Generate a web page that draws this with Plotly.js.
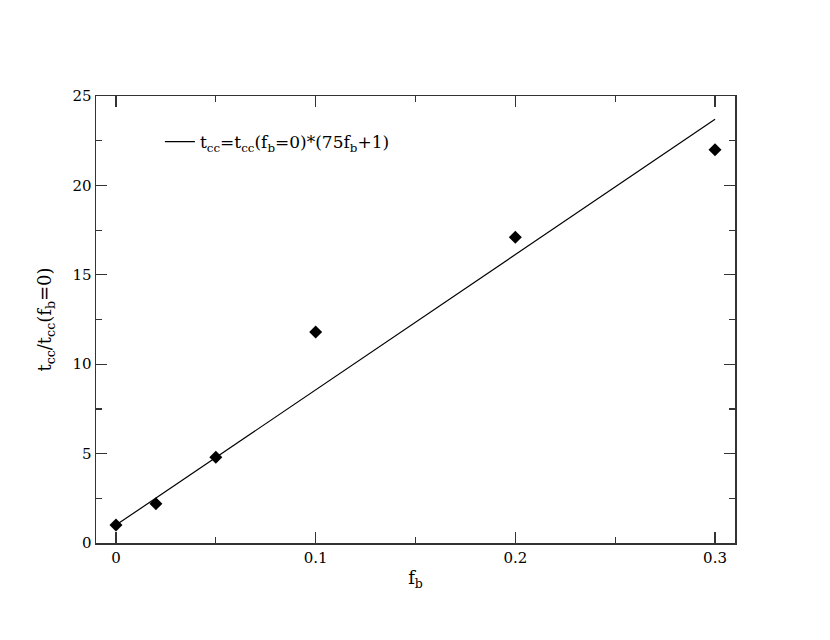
<!DOCTYPE html>
<html>
<head>
<meta charset="utf-8">
<script src="https://cdn.plot.ly/plotly-3.0.1.min.js"></script>
<style>html,body{margin:0;padding:0;background:#fff;}</style>
</head>
<body>
<div id="chart" style="width:830px;height:640px;"></div>
<script>
const fbPoints = [0, 0.02, 0.05, 0.1, 0.2, 0.3];
const ratioPoints = [1.0, 2.2, 4.8, 11.8, 17.1, 22.0];
const fitX = [0, 0.3];
const fitY = [1.0, 23.7];
const fitLabel = 't<sub>cc</sub>=t<sub>cc</sub>(f<sub>b</sub>=0)*(75f<sub>b</sub>+1)';

const fnt = 'DejaVu Serif';

const traces = [
  {
    x: fitX, y: fitY, type: 'scatter', mode: 'lines',
    line: {color: '#000', width: 1.2},
    name: fitLabel, showlegend: true
  },
  {
    x: fbPoints, y: ratioPoints, type: 'scatter', mode: 'markers',
    marker: {symbol: 'diamond', size: 10, color: '#000'},
    showlegend: false
  }
];

const axisCommon = {
  showline: true, mirror: 'ticks', linecolor: '#333', linewidth: 1.5,
  ticks: 'inside', ticklen: 11, tickwidth: 1.2, tickcolor: '#333',
  showgrid: false, zeroline: false,
  tickfont: {family: fnt, size: 15, color: '#000'}
};

const layout = {
  width: 830, height: 640,
  margin: {l: 96, r: 95, t: 96, b: 97},
  paper_bgcolor: '#fff', plot_bgcolor: '#fff',
  font: {family: fnt, color: '#000'},
  xaxis: Object.assign({}, axisCommon, {
    range: [-0.01, 0.31], tick0: 0, dtick: 0.1,
    minor: {dtick: 0.05, ticklen: 6, tickcolor: '#333', ticks: 'inside', tickwidth: 1.2},
    title: {text: 'f<sub>b</sub>', font: {family: fnt, size: 18}, standoff: 6}
  }),
  yaxis: Object.assign({}, axisCommon, {
    range: [0, 25], tick0: 0, dtick: 5,
    minor: {dtick: 2.5, ticklen: 6, tickcolor: '#333', ticks: 'inside', tickwidth: 1.2},
    title: {text: 't<sub>cc</sub>/t<sub>cc</sub>(f<sub>b</sub>=0)', font: {family: fnt, size: 18}, standoff: 16}
  }),
  legend: {
    x: 0.10, y: 0.937, xanchor: 'left', yanchor: 'top',
    bgcolor: 'rgba(0,0,0,0)', borderwidth: 0,
    font: {family: fnt, size: 17, color: '#000'},
    itemwidth: 30
  },
  showlegend: true
};

Plotly.newPlot('chart', traces, layout, {displayModeBar: false, staticPlot: true});
</script>
</body>
</html>
